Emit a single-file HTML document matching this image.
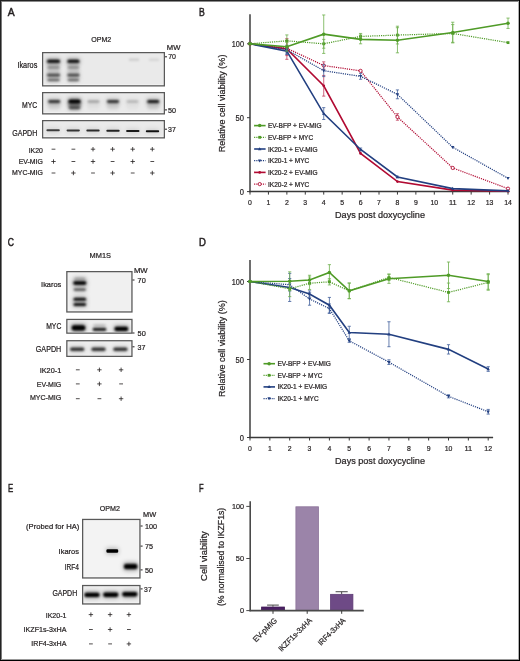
<!DOCTYPE html>
<html><head><meta charset="utf-8"><style>
html,body{margin:0;padding:0;background:#fff;}
svg{display:block;will-change:transform;}
text{font-family:"Liberation Sans",sans-serif;stroke:#231f20;stroke-width:0.22px;}
</style></head><body>
<svg width="520" height="661" viewBox="0 0 520 661">
<defs><filter id="b4" x="-50%" y="-200%" width="200%" height="500%"><feGaussianBlur stdDeviation="0.4"/></filter><filter id="b5" x="-50%" y="-200%" width="200%" height="500%"><feGaussianBlur stdDeviation="0.5"/></filter><filter id="b6" x="-50%" y="-200%" width="200%" height="500%"><feGaussianBlur stdDeviation="0.6"/></filter><filter id="b7" x="-50%" y="-200%" width="200%" height="500%"><feGaussianBlur stdDeviation="0.7"/></filter><filter id="b8" x="-50%" y="-200%" width="200%" height="500%"><feGaussianBlur stdDeviation="0.8"/></filter><filter id="b9" x="-50%" y="-200%" width="200%" height="500%"><feGaussianBlur stdDeviation="0.9"/></filter><filter id="b10" x="-50%" y="-200%" width="200%" height="500%"><feGaussianBlur stdDeviation="1.0"/></filter><filter id="b11" x="-50%" y="-200%" width="200%" height="500%"><feGaussianBlur stdDeviation="1.1"/></filter><filter id="b12" x="-50%" y="-200%" width="200%" height="500%"><feGaussianBlur stdDeviation="1.2"/></filter><filter id="b13" x="-50%" y="-200%" width="200%" height="500%"><feGaussianBlur stdDeviation="1.3"/></filter><filter id="b14" x="-50%" y="-200%" width="200%" height="500%"><feGaussianBlur stdDeviation="1.4"/></filter><filter id="b15" x="-50%" y="-200%" width="200%" height="500%"><feGaussianBlur stdDeviation="1.5"/></filter><filter id="b16" x="-50%" y="-200%" width="200%" height="500%"><feGaussianBlur stdDeviation="1.6"/></filter><filter id="b17" x="-50%" y="-200%" width="200%" height="500%"><feGaussianBlur stdDeviation="1.7"/></filter><filter id="b18" x="-50%" y="-200%" width="200%" height="500%"><feGaussianBlur stdDeviation="1.8"/></filter><filter id="b19" x="-50%" y="-200%" width="200%" height="500%"><feGaussianBlur stdDeviation="1.9"/></filter><filter id="b20" x="-50%" y="-200%" width="200%" height="500%"><feGaussianBlur stdDeviation="2.0"/></filter><clipPath id="c0"><rect x="43.30" y="53.30" width="120.40" height="31.90"/></clipPath><clipPath id="c1"><rect x="43.30" y="93.30" width="120.40" height="19.90"/></clipPath><clipPath id="c2"><rect x="43.30" y="121.30" width="120.40" height="15.90"/></clipPath><clipPath id="c3"><rect x="67.50" y="272.30" width="63.80" height="39.00"/></clipPath><clipPath id="c4"><rect x="67.50" y="320.10" width="63.80" height="12.40"/></clipPath><clipPath id="c5"><rect x="67.50" y="341.40" width="63.80" height="14.30"/></clipPath><clipPath id="c6"><rect x="83.30" y="520.10" width="56.00" height="57.20"/></clipPath><clipPath id="c7"><rect x="83.30" y="586.20" width="56.00" height="17.10"/></clipPath></defs>
<rect width="520" height="661" fill="#fff"/>
<text x="7.80" y="15.80" font-size="11.11" textLength="6.90" lengthAdjust="spacingAndGlyphs" fill="#231f20" style="stroke-width:0.5px">A</text>
<text x="199.10" y="15.65" font-size="10.97" textLength="5.80" lengthAdjust="spacingAndGlyphs" fill="#231f20" style="stroke-width:0.5px">B</text>
<text x="7.80" y="246.10" font-size="11.11" textLength="6.20" lengthAdjust="spacingAndGlyphs" fill="#231f20" style="stroke-width:0.5px">C</text>
<text x="199.10" y="245.80" font-size="10.83" textLength="6.90" lengthAdjust="spacingAndGlyphs" fill="#231f20" style="stroke-width:0.5px">D</text>
<text x="8.00" y="491.80" font-size="11.53" textLength="5.20" lengthAdjust="spacingAndGlyphs" fill="#231f20" style="stroke-width:0.5px">E</text>
<text x="199.10" y="491.70" font-size="11.53" textLength="4.60" lengthAdjust="spacingAndGlyphs" fill="#231f20" style="stroke-width:0.5px">F</text>
<text x="91.20" y="41.50" font-size="8.06" textLength="20.10" lengthAdjust="spacingAndGlyphs" fill="#231f20" >OPM2</text>
<text x="166.80" y="50.00" font-size="7.22" textLength="13.60" lengthAdjust="spacingAndGlyphs" fill="#231f20" >MW</text>
<rect x="43.00" y="53.00" width="121.00" height="32.50" fill="#fafafa"/>
<rect x="43.90" y="53.90" width="119.20" height="30.70" fill="#eaeaea"/>
<g clip-path="url(#c0)">
<rect x="47.15" y="60.00" width="12.70" height="22.00" rx="3.00" fill="#000" fill-opacity="0.1" filter="url(#b15)"/>
<rect x="46.25" y="58.30" width="14.50" height="6.00" rx="2" fill="#000" fill-opacity="0.3" filter="url(#b20)"/>
<rect x="47.03" y="59.80" width="12.94" height="3.00" rx="1.50" fill="#000" fill-opacity="0.95" filter="url(#b13)"/>
<rect x="46.75" y="65.10" width="13.50" height="5.00" rx="2" fill="#000" fill-opacity="0.1" filter="url(#b20)"/>
<rect x="47.35" y="66.60" width="12.30" height="2.00" rx="1.00" fill="#000" fill-opacity="0.32" filter="url(#b10)"/>
<rect x="46.25" y="72.30" width="14.50" height="5.60" rx="2" fill="#000" fill-opacity="0.15" filter="url(#b20)"/>
<rect x="46.91" y="73.80" width="13.18" height="2.60" rx="1.30" fill="#000" fill-opacity="0.6" filter="url(#b11)"/>
<rect x="46.75" y="77.60" width="13.50" height="5.00" rx="2" fill="#000" fill-opacity="0.1" filter="url(#b20)"/>
<rect x="47.35" y="79.10" width="12.30" height="2.00" rx="1.00" fill="#000" fill-opacity="0.5" filter="url(#b10)"/>
<rect x="67.55" y="60.00" width="11.70" height="22.00" rx="3.00" fill="#000" fill-opacity="0.1" filter="url(#b15)"/>
<rect x="66.65" y="58.30" width="13.50" height="6.00" rx="2" fill="#000" fill-opacity="0.3" filter="url(#b20)"/>
<rect x="67.43" y="59.80" width="11.94" height="3.00" rx="1.50" fill="#000" fill-opacity="0.95" filter="url(#b13)"/>
<rect x="67.15" y="65.10" width="12.50" height="5.00" rx="2" fill="#000" fill-opacity="0.1" filter="url(#b20)"/>
<rect x="67.75" y="66.60" width="11.30" height="2.00" rx="1.00" fill="#000" fill-opacity="0.32" filter="url(#b10)"/>
<rect x="66.65" y="72.30" width="13.50" height="5.60" rx="2" fill="#000" fill-opacity="0.15" filter="url(#b20)"/>
<rect x="67.31" y="73.80" width="12.18" height="2.60" rx="1.30" fill="#000" fill-opacity="0.6" filter="url(#b11)"/>
<rect x="67.15" y="77.60" width="12.50" height="5.00" rx="2" fill="#000" fill-opacity="0.1" filter="url(#b20)"/>
<rect x="67.75" y="79.10" width="11.30" height="2.00" rx="1.00" fill="#000" fill-opacity="0.5" filter="url(#b10)"/>
<rect x="128.72" y="58.60" width="10.56" height="2.40" rx="1.20" fill="#000" fill-opacity="0.12" filter="url(#b12)"/>
<rect x="148.72" y="58.60" width="10.56" height="2.40" rx="1.20" fill="#000" fill-opacity="0.09" filter="url(#b12)"/>
</g>
<rect x="42.65" y="52.65" width="121.70" height="33.20" fill="none" stroke="#595959" stroke-width="1.3"/>
<rect x="43.00" y="93.00" width="121.00" height="20.50" fill="#fafafa"/>
<rect x="43.90" y="93.90" width="119.20" height="18.70" fill="#eaeaea"/>
<g clip-path="url(#c1)">
<rect x="48.10" y="101.50" width="12.20" height="8.00" rx="3.00" fill="#000" fill-opacity="0.1" filter="url(#b15)"/>
<rect x="47.45" y="98.60" width="13.50" height="5.80" rx="2" fill="#000" fill-opacity="0.2" filter="url(#b20)"/>
<rect x="48.17" y="100.10" width="12.06" height="2.80" rx="1.40" fill="#000" fill-opacity="0.72" filter="url(#b12)"/>
<rect x="68.40" y="101.50" width="12.20" height="8.00" rx="3.00" fill="#000" fill-opacity="0.225" filter="url(#b15)"/>
<rect x="67.75" y="98.20" width="13.50" height="6.60" rx="2" fill="#000" fill-opacity="0.45" filter="url(#b20)"/>
<rect x="68.47" y="99.70" width="12.06" height="3.60" rx="1.80" fill="#000" fill-opacity="1.0" filter="url(#b12)"/>
<rect x="87.40" y="101.50" width="12.20" height="8.00" rx="3.00" fill="#000" fill-opacity="0.04" filter="url(#b15)"/>
<rect x="86.75" y="98.90" width="13.50" height="5.20" rx="2" fill="#000" fill-opacity="0.08" filter="url(#b20)"/>
<rect x="87.47" y="100.40" width="12.06" height="2.20" rx="1.10" fill="#000" fill-opacity="0.3" filter="url(#b12)"/>
<rect x="106.90" y="101.50" width="12.20" height="8.00" rx="3.00" fill="#000" fill-opacity="0.1" filter="url(#b15)"/>
<rect x="106.25" y="98.60" width="13.50" height="5.80" rx="2" fill="#000" fill-opacity="0.2" filter="url(#b20)"/>
<rect x="106.97" y="100.10" width="12.06" height="2.80" rx="1.40" fill="#000" fill-opacity="0.72" filter="url(#b12)"/>
<rect x="126.40" y="101.50" width="12.20" height="8.00" rx="3.00" fill="#000" fill-opacity="0.03" filter="url(#b15)"/>
<rect x="125.75" y="98.90" width="13.50" height="5.20" rx="2" fill="#000" fill-opacity="0.06" filter="url(#b20)"/>
<rect x="126.47" y="100.40" width="12.06" height="2.20" rx="1.10" fill="#000" fill-opacity="0.22" filter="url(#b12)"/>
<rect x="147.10" y="101.50" width="12.20" height="8.00" rx="3.00" fill="#000" fill-opacity="0.125" filter="url(#b15)"/>
<rect x="146.45" y="98.50" width="13.50" height="6.00" rx="2" fill="#000" fill-opacity="0.25" filter="url(#b20)"/>
<rect x="147.17" y="100.00" width="12.06" height="3.00" rx="1.50" fill="#000" fill-opacity="0.85" filter="url(#b12)"/>
<rect x="68.25" y="105.10" width="12.50" height="5.40" rx="2" fill="#000" fill-opacity="0.2" filter="url(#b20)"/>
<rect x="68.97" y="106.60" width="11.06" height="2.40" rx="1.20" fill="#000" fill-opacity="0.45" filter="url(#b12)"/>
<rect x="68.40" y="99.50" width="12.20" height="9.00" rx="3.00" fill="#000" fill-opacity="0.18" filter="url(#b15)"/>
</g>
<rect x="42.65" y="92.65" width="121.70" height="21.20" fill="none" stroke="#595959" stroke-width="1.3"/>
<rect x="43.00" y="121.00" width="121.00" height="16.50" fill="#fafafa"/>
<rect x="43.90" y="121.90" width="119.20" height="14.70" fill="#eaeaea"/>
<g clip-path="url(#c2)">
<rect x="46.10" y="127.70" width="14.00" height="5.00" rx="2" fill="#000" fill-opacity="0.1" filter="url(#b20)"/>
<rect x="46.46" y="129.20" width="13.28" height="2.00" rx="0.80" fill="#000" fill-opacity="0.72" filter="url(#b6)"/>
<rect x="66.20" y="127.90" width="14.00" height="5.00" rx="2" fill="#000" fill-opacity="0.1" filter="url(#b20)"/>
<rect x="66.56" y="129.40" width="13.28" height="2.00" rx="0.80" fill="#000" fill-opacity="0.76" filter="url(#b6)"/>
<rect x="86.00" y="128.10" width="14.00" height="5.00" rx="2" fill="#000" fill-opacity="0.1" filter="url(#b20)"/>
<rect x="86.36" y="129.60" width="13.28" height="2.00" rx="0.80" fill="#000" fill-opacity="0.7999999999999999" filter="url(#b6)"/>
<rect x="106.00" y="128.30" width="14.00" height="5.00" rx="2" fill="#000" fill-opacity="0.1" filter="url(#b20)"/>
<rect x="106.36" y="129.80" width="13.28" height="2.00" rx="0.80" fill="#000" fill-opacity="0.84" filter="url(#b6)"/>
<rect x="125.80" y="128.50" width="14.00" height="5.00" rx="2" fill="#000" fill-opacity="0.1" filter="url(#b20)"/>
<rect x="126.16" y="130.00" width="13.28" height="2.00" rx="0.80" fill="#000" fill-opacity="0.88" filter="url(#b6)"/>
<rect x="145.50" y="128.70" width="14.00" height="5.00" rx="2" fill="#000" fill-opacity="0.1" filter="url(#b20)"/>
<rect x="145.86" y="130.20" width="13.28" height="2.00" rx="0.80" fill="#000" fill-opacity="0.9199999999999999" filter="url(#b6)"/>
</g>
<rect x="42.65" y="120.65" width="121.70" height="17.20" fill="none" stroke="#595959" stroke-width="1.3"/>
<line x1="165.00" y1="56.80" x2="167.00" y2="56.80" stroke="#231f20" stroke-width="1" />
<line x1="165.00" y1="109.90" x2="167.00" y2="109.90" stroke="#231f20" stroke-width="1" />
<line x1="165.00" y1="129.20" x2="167.00" y2="129.20" stroke="#231f20" stroke-width="1" />
<text x="168.20" y="59.30" font-size="7.64" textLength="7.80" lengthAdjust="spacingAndGlyphs" fill="#231f20" >70</text>
<text x="168.00" y="112.80" font-size="7.78" textLength="8.00" lengthAdjust="spacingAndGlyphs" fill="#231f20" >50</text>
<text x="168.00" y="131.90" font-size="7.64" textLength="7.80" lengthAdjust="spacingAndGlyphs" fill="#231f20" >37</text>
<text x="17.40" y="67.90" font-size="8.33" textLength="19.90" lengthAdjust="spacingAndGlyphs" fill="#231f20" >Ikaros</text>
<text x="22.10" y="108.00" font-size="8.33" textLength="15.20" lengthAdjust="spacingAndGlyphs" fill="#231f20" >MYC</text>
<text x="12.20" y="136.20" font-size="8.33" textLength="25.10" lengthAdjust="spacingAndGlyphs" fill="#231f20" >GAPDH</text>
<text x="28.70" y="152.60" font-size="7.36" textLength="14.20" lengthAdjust="spacingAndGlyphs" fill="#231f20" >IK20</text>
<text x="18.70" y="163.90" font-size="7.36" textLength="24.20" lengthAdjust="spacingAndGlyphs" fill="#231f20" >EV-MIG</text>
<text x="12.10" y="175.10" font-size="7.36" textLength="30.80" lengthAdjust="spacingAndGlyphs" fill="#231f20" >MYC-MIG</text>
<line x1="51.60" y1="149.20" x2="55.40" y2="149.20" stroke="#231f20" stroke-width="0.8" />
<line x1="71.50" y1="149.20" x2="75.30" y2="149.20" stroke="#231f20" stroke-width="0.8" />
<line x1="90.80" y1="149.20" x2="95.20" y2="149.20" stroke="#231f20" stroke-width="0.8" />
<line x1="93.00" y1="147.00" x2="93.00" y2="151.40" stroke="#231f20" stroke-width="0.8" />
<line x1="110.40" y1="149.20" x2="114.80" y2="149.20" stroke="#231f20" stroke-width="0.8" />
<line x1="112.60" y1="147.00" x2="112.60" y2="151.40" stroke="#231f20" stroke-width="0.8" />
<line x1="130.50" y1="149.20" x2="134.90" y2="149.20" stroke="#231f20" stroke-width="0.8" />
<line x1="132.70" y1="147.00" x2="132.70" y2="151.40" stroke="#231f20" stroke-width="0.8" />
<line x1="150.10" y1="149.20" x2="154.50" y2="149.20" stroke="#231f20" stroke-width="0.8" />
<line x1="152.30" y1="147.00" x2="152.30" y2="151.40" stroke="#231f20" stroke-width="0.8" />
<line x1="51.30" y1="161.50" x2="55.70" y2="161.50" stroke="#231f20" stroke-width="0.8" />
<line x1="53.50" y1="159.30" x2="53.50" y2="163.70" stroke="#231f20" stroke-width="0.8" />
<line x1="71.50" y1="161.50" x2="75.30" y2="161.50" stroke="#231f20" stroke-width="0.8" />
<line x1="90.80" y1="161.50" x2="95.20" y2="161.50" stroke="#231f20" stroke-width="0.8" />
<line x1="93.00" y1="159.30" x2="93.00" y2="163.70" stroke="#231f20" stroke-width="0.8" />
<line x1="110.70" y1="161.50" x2="114.50" y2="161.50" stroke="#231f20" stroke-width="0.8" />
<line x1="130.50" y1="161.50" x2="134.90" y2="161.50" stroke="#231f20" stroke-width="0.8" />
<line x1="132.70" y1="159.30" x2="132.70" y2="163.70" stroke="#231f20" stroke-width="0.8" />
<line x1="150.40" y1="161.50" x2="154.20" y2="161.50" stroke="#231f20" stroke-width="0.8" />
<line x1="51.60" y1="173.00" x2="55.40" y2="173.00" stroke="#231f20" stroke-width="0.8" />
<line x1="71.20" y1="173.00" x2="75.60" y2="173.00" stroke="#231f20" stroke-width="0.8" />
<line x1="73.40" y1="170.80" x2="73.40" y2="175.20" stroke="#231f20" stroke-width="0.8" />
<line x1="91.10" y1="173.00" x2="94.90" y2="173.00" stroke="#231f20" stroke-width="0.8" />
<line x1="110.40" y1="173.00" x2="114.80" y2="173.00" stroke="#231f20" stroke-width="0.8" />
<line x1="112.60" y1="170.80" x2="112.60" y2="175.20" stroke="#231f20" stroke-width="0.8" />
<line x1="130.80" y1="173.00" x2="134.60" y2="173.00" stroke="#231f20" stroke-width="0.8" />
<line x1="150.10" y1="173.00" x2="154.50" y2="173.00" stroke="#231f20" stroke-width="0.8" />
<line x1="152.30" y1="170.80" x2="152.30" y2="175.20" stroke="#231f20" stroke-width="0.8" />
<text x="89.60" y="258.00" font-size="8.06" textLength="21.40" lengthAdjust="spacingAndGlyphs" fill="#231f20" >MM1S</text>
<text x="133.90" y="273.00" font-size="7.36" textLength="13.80" lengthAdjust="spacingAndGlyphs" fill="#231f20" >MW</text>
<rect x="67.20" y="272.00" width="64.40" height="39.60" fill="#fafafa"/>
<rect x="68.10" y="272.90" width="62.60" height="37.80" fill="#f0f0f0"/>
<g clip-path="url(#c3)">
<rect x="73.30" y="276.00" width="13.00" height="5.20" rx="2" fill="#000" fill-opacity="0.1" filter="url(#b20)"/>
<rect x="74.02" y="277.50" width="11.56" height="2.20" rx="1.10" fill="#000" fill-opacity="0.22" filter="url(#b12)"/>
<rect x="72.55" y="279.70" width="14.50" height="6.60" rx="2" fill="#000" fill-opacity="0.35" filter="url(#b20)"/>
<rect x="73.27" y="281.20" width="13.06" height="3.60" rx="1.80" fill="#000" fill-opacity="1.0" filter="url(#b12)"/>
<rect x="73.05" y="286.90" width="13.50" height="5.40" rx="2" fill="#000" fill-opacity="0.18" filter="url(#b20)"/>
<rect x="73.71" y="288.40" width="12.18" height="2.40" rx="1.20" fill="#000" fill-opacity="0.62" filter="url(#b11)"/>
<rect x="72.80" y="296.30" width="14.00" height="6.00" rx="2" fill="#000" fill-opacity="0.25" filter="url(#b20)"/>
<rect x="73.52" y="297.80" width="12.56" height="3.00" rx="1.50" fill="#000" fill-opacity="0.9" filter="url(#b12)"/>
<rect x="72.80" y="301.60" width="14.00" height="6.00" rx="2" fill="#000" fill-opacity="0.25" filter="url(#b20)"/>
<rect x="73.52" y="303.10" width="12.56" height="3.00" rx="1.50" fill="#000" fill-opacity="0.88" filter="url(#b12)"/>
</g>
<rect x="66.85" y="271.65" width="65.10" height="40.30" fill="none" stroke="#595959" stroke-width="1.3"/>
<rect x="67.20" y="319.80" width="64.40" height="13.00" fill="#fafafa"/>
<rect x="68.10" y="320.70" width="62.60" height="11.20" fill="#eeeeee"/>
<g clip-path="url(#c4)">
<rect x="71.00" y="323.70" width="15.00" height="8.20" rx="2" fill="#000" fill-opacity="0.4" filter="url(#b20)"/>
<rect x="71.72" y="325.20" width="13.56" height="5.20" rx="2.60" fill="#000" fill-opacity="1.0" filter="url(#b12)"/>
<rect x="92.25" y="326.60" width="14.50" height="5.60" rx="2" fill="#000" fill-opacity="0.2" filter="url(#b20)"/>
<rect x="92.79" y="328.10" width="13.42" height="2.60" rx="1.30" fill="#000" fill-opacity="0.92" filter="url(#b9)"/>
<rect x="93.22" y="324.00" width="12.56" height="3.00" rx="1.50" fill="#000" fill-opacity="0.15" filter="url(#b12)"/>
<rect x="113.80" y="325.30" width="15.00" height="7.20" rx="2" fill="#000" fill-opacity="0.35" filter="url(#b20)"/>
<rect x="114.46" y="326.80" width="13.68" height="4.20" rx="2.10" fill="#000" fill-opacity="1.0" filter="url(#b11)"/>
</g>
<rect x="66.85" y="319.45" width="65.10" height="13.70" fill="none" stroke="#595959" stroke-width="1.3"/>
<rect x="67.20" y="341.10" width="64.40" height="14.90" fill="#fafafa"/>
<rect x="68.10" y="342.00" width="62.60" height="13.10" fill="#eeeeee"/>
<g clip-path="url(#c5)">
<rect x="69.45" y="346.00" width="15.50" height="6.40" rx="2" fill="#000" fill-opacity="0.15" filter="url(#b20)"/>
<rect x="70.11" y="347.50" width="14.18" height="3.40" rx="1.70" fill="#000" fill-opacity="0.75" filter="url(#b11)"/>
<rect x="90.75" y="346.00" width="15.50" height="6.40" rx="2" fill="#000" fill-opacity="0.15" filter="url(#b20)"/>
<rect x="91.41" y="347.50" width="14.18" height="3.40" rx="1.70" fill="#000" fill-opacity="0.75" filter="url(#b11)"/>
<rect x="112.65" y="346.00" width="15.50" height="6.40" rx="2" fill="#000" fill-opacity="0.15" filter="url(#b20)"/>
<rect x="113.31" y="347.50" width="14.18" height="3.40" rx="1.70" fill="#000" fill-opacity="0.75" filter="url(#b11)"/>
</g>
<rect x="66.85" y="340.75" width="65.10" height="15.60" fill="none" stroke="#595959" stroke-width="1.3"/>
<line x1="132.50" y1="280.00" x2="134.50" y2="280.00" stroke="#231f20" stroke-width="1" />
<line x1="132.50" y1="333.00" x2="134.50" y2="333.00" stroke="#231f20" stroke-width="1" />
<line x1="132.50" y1="346.80" x2="134.50" y2="346.80" stroke="#231f20" stroke-width="1" />
<text x="137.60" y="282.80" font-size="7.78" textLength="8.20" lengthAdjust="spacingAndGlyphs" fill="#231f20" >70</text>
<text x="137.60" y="336.00" font-size="7.78" textLength="8.20" lengthAdjust="spacingAndGlyphs" fill="#231f20" >50</text>
<text x="137.60" y="349.90" font-size="7.92" textLength="7.90" lengthAdjust="spacingAndGlyphs" fill="#231f20" >37</text>
<text x="41.10" y="287.20" font-size="8.06" textLength="20.20" lengthAdjust="spacingAndGlyphs" fill="#231f20" >Ikaros</text>
<text x="46.20" y="328.60" font-size="8.19" textLength="15.10" lengthAdjust="spacingAndGlyphs" fill="#231f20" >MYC</text>
<text x="35.80" y="352.00" font-size="8.19" textLength="25.50" lengthAdjust="spacingAndGlyphs" fill="#231f20" >GAPDH</text>
<text x="39.70" y="373.20" font-size="7.64" textLength="21.60" lengthAdjust="spacingAndGlyphs" fill="#231f20" >IK20-1</text>
<text x="36.80" y="386.60" font-size="7.64" textLength="24.50" lengthAdjust="spacingAndGlyphs" fill="#231f20" >EV-MIG</text>
<text x="29.90" y="400.30" font-size="8.06" textLength="31.40" lengthAdjust="spacingAndGlyphs" fill="#231f20" >MYC-MIG</text>
<line x1="75.90" y1="369.80" x2="79.70" y2="369.80" stroke="#231f20" stroke-width="0.8" />
<line x1="97.20" y1="369.80" x2="101.60" y2="369.80" stroke="#231f20" stroke-width="0.8" />
<line x1="99.40" y1="367.60" x2="99.40" y2="372.00" stroke="#231f20" stroke-width="0.8" />
<line x1="118.90" y1="369.80" x2="123.30" y2="369.80" stroke="#231f20" stroke-width="0.8" />
<line x1="121.10" y1="367.60" x2="121.10" y2="372.00" stroke="#231f20" stroke-width="0.8" />
<line x1="75.90" y1="383.90" x2="79.70" y2="383.90" stroke="#231f20" stroke-width="0.8" />
<line x1="97.20" y1="383.90" x2="101.60" y2="383.90" stroke="#231f20" stroke-width="0.8" />
<line x1="99.40" y1="381.70" x2="99.40" y2="386.10" stroke="#231f20" stroke-width="0.8" />
<line x1="119.20" y1="383.90" x2="123.00" y2="383.90" stroke="#231f20" stroke-width="0.8" />
<line x1="75.90" y1="398.70" x2="79.70" y2="398.70" stroke="#231f20" stroke-width="0.8" />
<line x1="97.50" y1="398.70" x2="101.30" y2="398.70" stroke="#231f20" stroke-width="0.8" />
<line x1="118.90" y1="398.70" x2="123.30" y2="398.70" stroke="#231f20" stroke-width="0.8" />
<line x1="121.10" y1="396.50" x2="121.10" y2="400.90" stroke="#231f20" stroke-width="0.8" />
<text x="99.80" y="511.00" font-size="7.92" textLength="20.20" lengthAdjust="spacingAndGlyphs" fill="#231f20" >OPM2</text>
<text x="143.10" y="516.60" font-size="7.36" textLength="13.10" lengthAdjust="spacingAndGlyphs" fill="#231f20" >MW</text>
<rect x="83.00" y="519.80" width="56.60" height="57.80" fill="#fafafa"/>
<rect x="83.90" y="520.70" width="54.80" height="56.00" fill="#f3f3f3"/>
<g clip-path="url(#c6)">
<rect x="106.00" y="547.80" width="12.60" height="6.40" rx="2" fill="#000" fill-opacity="0.25" filter="url(#b20)"/>
<rect x="106.42" y="549.30" width="11.76" height="3.40" rx="1.20" fill="#000" fill-opacity="1.0" filter="url(#b7)"/>
<rect x="123.60" y="562.60" width="14.20" height="8.00" rx="2" fill="#000" fill-opacity="0.4" filter="url(#b20)"/>
<rect x="124.08" y="564.10" width="13.24" height="5.00" rx="1.80" fill="#000" fill-opacity="1.0" filter="url(#b8)"/>
</g>
<rect x="82.65" y="519.45" width="57.30" height="58.50" fill="none" stroke="#595959" stroke-width="1.3"/>
<rect x="83.00" y="585.90" width="56.60" height="17.70" fill="#fafafa"/>
<rect x="83.90" y="586.80" width="54.80" height="15.90" fill="#eeeeee"/>
<g clip-path="url(#c7)">
<rect x="84.00" y="591.20" width="16.00" height="7.40" rx="2" fill="#000" fill-opacity="0.3" filter="url(#b20)"/>
<rect x="84.48" y="592.70" width="15.04" height="4.40" rx="1.80" fill="#000" fill-opacity="1.0" filter="url(#b8)"/>
<rect x="102.80" y="591.00" width="16.00" height="7.40" rx="2" fill="#000" fill-opacity="0.3" filter="url(#b20)"/>
<rect x="103.28" y="592.50" width="15.04" height="4.40" rx="1.80" fill="#000" fill-opacity="1.0" filter="url(#b8)"/>
<rect x="121.80" y="590.50" width="16.00" height="7.40" rx="2" fill="#000" fill-opacity="0.3" filter="url(#b20)"/>
<rect x="122.28" y="592.00" width="15.04" height="4.40" rx="1.80" fill="#000" fill-opacity="1.0" filter="url(#b8)"/>
</g>
<rect x="82.65" y="585.55" width="57.30" height="18.40" fill="none" stroke="#595959" stroke-width="1.3"/>
<line x1="140.60" y1="526.00" x2="142.60" y2="526.00" stroke="#231f20" stroke-width="1" />
<line x1="140.60" y1="546.10" x2="142.60" y2="546.10" stroke="#231f20" stroke-width="1" />
<line x1="140.60" y1="569.90" x2="142.60" y2="569.90" stroke="#231f20" stroke-width="1" />
<line x1="140.60" y1="588.90" x2="142.60" y2="588.90" stroke="#231f20" stroke-width="1" />
<text x="144.90" y="528.70" font-size="7.36" textLength="12.10" lengthAdjust="spacingAndGlyphs" fill="#231f20" >100</text>
<text x="144.90" y="548.80" font-size="7.22" textLength="8.00" lengthAdjust="spacingAndGlyphs" fill="#231f20" >75</text>
<text x="144.90" y="572.60" font-size="7.36" textLength="8.00" lengthAdjust="spacingAndGlyphs" fill="#231f20" >50</text>
<text x="144.10" y="591.90" font-size="7.64" textLength="7.60" lengthAdjust="spacingAndGlyphs" fill="#231f20" >37</text>
<text x="26.10" y="528.60" font-size="7.50" textLength="53.20" lengthAdjust="spacingAndGlyphs" fill="#231f20" >(Probed for HA)</text>
<text x="58.60" y="553.60" font-size="7.64" textLength="20.30" lengthAdjust="spacingAndGlyphs" fill="#231f20" >Ikaros</text>
<text x="64.70" y="570.30" font-size="8.19" textLength="14.20" lengthAdjust="spacingAndGlyphs" fill="#231f20" >IRF4</text>
<text x="52.40" y="596.20" font-size="8.47" textLength="24.80" lengthAdjust="spacingAndGlyphs" fill="#231f20" >GAPDH</text>
<text x="45.70" y="618.20" font-size="7.36" textLength="20.70" lengthAdjust="spacingAndGlyphs" fill="#231f20" >IK20-1</text>
<text x="23.60" y="632.20" font-size="7.36" textLength="42.80" lengthAdjust="spacingAndGlyphs" fill="#231f20" >IKZF1s-3xHA</text>
<text x="31.30" y="646.30" font-size="7.36" textLength="35.10" lengthAdjust="spacingAndGlyphs" fill="#231f20" >IRF4-3xHA</text>
<line x1="88.70" y1="614.60" x2="93.10" y2="614.60" stroke="#231f20" stroke-width="0.8" />
<line x1="90.90" y1="612.40" x2="90.90" y2="616.80" stroke="#231f20" stroke-width="0.8" />
<line x1="107.90" y1="614.60" x2="112.30" y2="614.60" stroke="#231f20" stroke-width="0.8" />
<line x1="110.10" y1="612.40" x2="110.10" y2="616.80" stroke="#231f20" stroke-width="0.8" />
<line x1="126.70" y1="614.60" x2="131.10" y2="614.60" stroke="#231f20" stroke-width="0.8" />
<line x1="128.90" y1="612.40" x2="128.90" y2="616.80" stroke="#231f20" stroke-width="0.8" />
<line x1="89.00" y1="629.50" x2="92.80" y2="629.50" stroke="#231f20" stroke-width="0.8" />
<line x1="107.90" y1="629.50" x2="112.30" y2="629.50" stroke="#231f20" stroke-width="0.8" />
<line x1="110.10" y1="627.30" x2="110.10" y2="631.70" stroke="#231f20" stroke-width="0.8" />
<line x1="127.00" y1="629.50" x2="130.80" y2="629.50" stroke="#231f20" stroke-width="0.8" />
<line x1="89.00" y1="643.90" x2="92.80" y2="643.90" stroke="#231f20" stroke-width="0.8" />
<line x1="108.20" y1="643.90" x2="112.00" y2="643.90" stroke="#231f20" stroke-width="0.8" />
<line x1="126.70" y1="643.90" x2="131.10" y2="643.90" stroke="#231f20" stroke-width="0.8" />
<line x1="128.90" y1="641.70" x2="128.90" y2="646.10" stroke="#231f20" stroke-width="0.8" />
<line x1="250.00" y1="14.30" x2="250.00" y2="192.30" stroke="#4a4a4a" stroke-width="1.6" />
<line x1="249.20" y1="191.60" x2="509.50" y2="191.60" stroke="#3a3a3a" stroke-width="1.5" />
<line x1="247.00" y1="43.80" x2="250.00" y2="43.80" stroke="#3a3a3a" stroke-width="1" />
<text x="231.80" y="46.80" font-size="8.89" textLength="12.20" lengthAdjust="spacingAndGlyphs" fill="#231f20" >100</text>
<line x1="247.00" y1="117.70" x2="250.00" y2="117.70" stroke="#3a3a3a" stroke-width="1" />
<text x="235.60" y="120.70" font-size="8.89" textLength="8.40" lengthAdjust="spacingAndGlyphs" fill="#231f20" >50</text>
<line x1="247.00" y1="191.60" x2="250.00" y2="191.60" stroke="#3a3a3a" stroke-width="1" />
<text x="239.80" y="194.60" font-size="8.89" textLength="4.20" lengthAdjust="spacingAndGlyphs" fill="#231f20" >0</text>
<line x1="250.00" y1="191.60" x2="250.00" y2="194.60" stroke="#3a3a3a" stroke-width="1" />
<text x="248.07" y="204.70" font-size="8.06" textLength="3.85" lengthAdjust="spacingAndGlyphs" fill="#231f20" >0</text>
<line x1="268.43" y1="191.60" x2="268.43" y2="194.60" stroke="#3a3a3a" stroke-width="1" />
<text x="266.50" y="204.70" font-size="8.06" textLength="3.85" lengthAdjust="spacingAndGlyphs" fill="#231f20" >1</text>
<line x1="286.86" y1="191.60" x2="286.86" y2="194.60" stroke="#3a3a3a" stroke-width="1" />
<text x="284.94" y="204.70" font-size="8.06" textLength="3.85" lengthAdjust="spacingAndGlyphs" fill="#231f20" >2</text>
<line x1="305.29" y1="191.60" x2="305.29" y2="194.60" stroke="#3a3a3a" stroke-width="1" />
<text x="303.37" y="204.70" font-size="8.06" textLength="3.85" lengthAdjust="spacingAndGlyphs" fill="#231f20" >3</text>
<line x1="323.72" y1="191.60" x2="323.72" y2="194.60" stroke="#3a3a3a" stroke-width="1" />
<text x="321.80" y="204.70" font-size="8.06" textLength="3.85" lengthAdjust="spacingAndGlyphs" fill="#231f20" >4</text>
<line x1="342.15" y1="191.60" x2="342.15" y2="194.60" stroke="#3a3a3a" stroke-width="1" />
<text x="340.22" y="204.70" font-size="8.06" textLength="3.85" lengthAdjust="spacingAndGlyphs" fill="#231f20" >5</text>
<line x1="360.58" y1="191.60" x2="360.58" y2="194.60" stroke="#3a3a3a" stroke-width="1" />
<text x="358.65" y="204.70" font-size="8.06" textLength="3.85" lengthAdjust="spacingAndGlyphs" fill="#231f20" >6</text>
<line x1="379.01" y1="191.60" x2="379.01" y2="194.60" stroke="#3a3a3a" stroke-width="1" />
<text x="377.08" y="204.70" font-size="8.06" textLength="3.85" lengthAdjust="spacingAndGlyphs" fill="#231f20" >7</text>
<line x1="397.44" y1="191.60" x2="397.44" y2="194.60" stroke="#3a3a3a" stroke-width="1" />
<text x="395.51" y="204.70" font-size="8.06" textLength="3.85" lengthAdjust="spacingAndGlyphs" fill="#231f20" >8</text>
<line x1="415.87" y1="191.60" x2="415.87" y2="194.60" stroke="#3a3a3a" stroke-width="1" />
<text x="413.94" y="204.70" font-size="8.06" textLength="3.85" lengthAdjust="spacingAndGlyphs" fill="#231f20" >9</text>
<line x1="434.30" y1="191.60" x2="434.30" y2="194.60" stroke="#3a3a3a" stroke-width="1" />
<text x="430.45" y="204.70" font-size="8.06" textLength="7.70" lengthAdjust="spacingAndGlyphs" fill="#231f20" >10</text>
<line x1="452.73" y1="191.60" x2="452.73" y2="194.60" stroke="#3a3a3a" stroke-width="1" />
<text x="448.88" y="204.70" font-size="8.06" textLength="7.70" lengthAdjust="spacingAndGlyphs" fill="#231f20" >11</text>
<line x1="471.16" y1="191.60" x2="471.16" y2="194.60" stroke="#3a3a3a" stroke-width="1" />
<text x="467.31" y="204.70" font-size="8.06" textLength="7.70" lengthAdjust="spacingAndGlyphs" fill="#231f20" >12</text>
<line x1="489.59" y1="191.60" x2="489.59" y2="194.60" stroke="#3a3a3a" stroke-width="1" />
<text x="485.74" y="204.70" font-size="8.06" textLength="7.70" lengthAdjust="spacingAndGlyphs" fill="#231f20" >13</text>
<line x1="508.02" y1="191.60" x2="508.02" y2="194.60" stroke="#3a3a3a" stroke-width="1" />
<text x="504.17" y="204.70" font-size="8.06" textLength="7.70" lengthAdjust="spacingAndGlyphs" fill="#231f20" >14</text>
<path d="M250.00,43.80 L286.86,48.23 L323.72,65.53 L360.58,70.85 L397.44,116.96 L452.73,167.95 L508.02,188.64" fill="none" stroke="#b10a32" stroke-width="1.25" stroke-dasharray="1.15,1.05"/>
<line x1="286.86" y1="40.84" x2="286.86" y2="55.62" stroke="#c0405f" stroke-width="0.8" />
<line x1="285.26" y1="40.84" x2="288.46" y2="40.84" stroke="#c0405f" stroke-width="0.8" />
<line x1="285.26" y1="55.62" x2="288.46" y2="55.62" stroke="#c0405f" stroke-width="0.8" />
<line x1="323.72" y1="61.83" x2="323.72" y2="69.22" stroke="#c0405f" stroke-width="0.8" />
<line x1="322.12" y1="61.83" x2="325.32" y2="61.83" stroke="#c0405f" stroke-width="0.8" />
<line x1="322.12" y1="69.22" x2="325.32" y2="69.22" stroke="#c0405f" stroke-width="0.8" />
<line x1="397.44" y1="113.71" x2="397.44" y2="120.21" stroke="#c0405f" stroke-width="0.8" />
<line x1="395.84" y1="113.71" x2="399.04" y2="113.71" stroke="#c0405f" stroke-width="0.8" />
<line x1="395.84" y1="120.21" x2="399.04" y2="120.21" stroke="#c0405f" stroke-width="0.8" />
<circle cx="250.00" cy="43.80" r="1.6" fill="#fff" stroke="#b10a32" stroke-width="0.9"/>
<circle cx="286.86" cy="48.23" r="1.6" fill="#fff" stroke="#b10a32" stroke-width="0.9"/>
<circle cx="323.72" cy="65.53" r="1.6" fill="#fff" stroke="#b10a32" stroke-width="0.9"/>
<circle cx="360.58" cy="70.85" r="1.6" fill="#fff" stroke="#b10a32" stroke-width="0.9"/>
<circle cx="397.44" cy="116.96" r="1.6" fill="#fff" stroke="#b10a32" stroke-width="0.9"/>
<circle cx="452.73" cy="167.95" r="1.6" fill="#fff" stroke="#b10a32" stroke-width="0.9"/>
<circle cx="508.02" cy="188.64" r="1.6" fill="#fff" stroke="#b10a32" stroke-width="0.9"/>
<path d="M250.00,43.80 L286.86,48.97 L323.72,85.78 L360.58,153.47 L397.44,181.55 L452.73,190.12 L508.02,191.16" fill="none" stroke="#b10a32" stroke-width="1.6" />
<line x1="286.86" y1="38.63" x2="286.86" y2="59.32" stroke="#c0405f" stroke-width="0.8" />
<line x1="285.26" y1="38.63" x2="288.46" y2="38.63" stroke="#c0405f" stroke-width="0.8" />
<line x1="285.26" y1="59.32" x2="288.46" y2="59.32" stroke="#c0405f" stroke-width="0.8" />
<line x1="323.72" y1="75.43" x2="323.72" y2="96.12" stroke="#c0405f" stroke-width="0.8" />
<line x1="322.12" y1="75.43" x2="325.32" y2="75.43" stroke="#c0405f" stroke-width="0.8" />
<line x1="322.12" y1="96.12" x2="325.32" y2="96.12" stroke="#c0405f" stroke-width="0.8" />
<circle cx="250.00" cy="43.80" r="1.35" fill="#b10a32"/>
<circle cx="286.86" cy="48.97" r="1.35" fill="#b10a32"/>
<circle cx="323.72" cy="85.78" r="1.35" fill="#b10a32"/>
<circle cx="360.58" cy="153.47" r="1.35" fill="#b10a32"/>
<circle cx="397.44" cy="181.55" r="1.35" fill="#b10a32"/>
<circle cx="452.73" cy="190.12" r="1.35" fill="#b10a32"/>
<circle cx="508.02" cy="191.16" r="1.35" fill="#b10a32"/>
<path d="M250.00,43.80 L286.86,49.71 L323.72,70.70 L360.58,76.32 L397.44,94.35 L452.73,147.26 L508.02,178.30" fill="none" stroke="#223f80" stroke-width="1.25" stroke-dasharray="1.15,1.05"/>
<line x1="286.86" y1="45.28" x2="286.86" y2="54.15" stroke="#41609c" stroke-width="0.8" />
<line x1="285.26" y1="45.28" x2="288.46" y2="45.28" stroke="#41609c" stroke-width="0.8" />
<line x1="285.26" y1="54.15" x2="288.46" y2="54.15" stroke="#41609c" stroke-width="0.8" />
<line x1="323.72" y1="64.79" x2="323.72" y2="76.61" stroke="#41609c" stroke-width="0.8" />
<line x1="322.12" y1="64.79" x2="325.32" y2="64.79" stroke="#41609c" stroke-width="0.8" />
<line x1="322.12" y1="76.61" x2="325.32" y2="76.61" stroke="#41609c" stroke-width="0.8" />
<line x1="360.58" y1="73.36" x2="360.58" y2="79.27" stroke="#41609c" stroke-width="0.8" />
<line x1="358.98" y1="73.36" x2="362.18" y2="73.36" stroke="#41609c" stroke-width="0.8" />
<line x1="358.98" y1="79.27" x2="362.18" y2="79.27" stroke="#41609c" stroke-width="0.8" />
<line x1="397.44" y1="89.91" x2="397.44" y2="98.78" stroke="#41609c" stroke-width="0.8" />
<line x1="395.84" y1="89.91" x2="399.04" y2="89.91" stroke="#41609c" stroke-width="0.8" />
<line x1="395.84" y1="98.78" x2="399.04" y2="98.78" stroke="#41609c" stroke-width="0.8" />
<path d="M250.00,45.60 L251.70,42.60 L248.30,42.60Z" fill="#223f80"/>
<path d="M286.86,51.51 L288.56,48.51 L285.16,48.51Z" fill="#223f80"/>
<path d="M323.72,72.50 L325.42,69.50 L322.02,69.50Z" fill="#223f80"/>
<path d="M360.58,78.12 L362.28,75.12 L358.88,75.12Z" fill="#223f80"/>
<path d="M397.44,96.15 L399.14,93.15 L395.74,93.15Z" fill="#223f80"/>
<path d="M452.73,149.06 L454.43,146.06 L451.03,146.06Z" fill="#223f80"/>
<path d="M508.02,180.10 L509.72,177.10 L506.32,177.10Z" fill="#223f80"/>
<path d="M250.00,43.80 L286.86,51.19 L323.72,113.56 L360.58,149.48 L397.44,176.97 L452.73,188.64 L508.02,190.86" fill="none" stroke="#223f80" stroke-width="1.6" />
<line x1="286.86" y1="48.23" x2="286.86" y2="54.15" stroke="#41609c" stroke-width="0.8" />
<line x1="285.26" y1="48.23" x2="288.46" y2="48.23" stroke="#41609c" stroke-width="0.8" />
<line x1="285.26" y1="54.15" x2="288.46" y2="54.15" stroke="#41609c" stroke-width="0.8" />
<line x1="323.72" y1="107.65" x2="323.72" y2="119.47" stroke="#41609c" stroke-width="0.8" />
<line x1="322.12" y1="107.65" x2="325.32" y2="107.65" stroke="#41609c" stroke-width="0.8" />
<line x1="322.12" y1="119.47" x2="325.32" y2="119.47" stroke="#41609c" stroke-width="0.8" />
<line x1="360.58" y1="148.00" x2="360.58" y2="150.95" stroke="#41609c" stroke-width="0.8" />
<line x1="358.98" y1="148.00" x2="362.18" y2="148.00" stroke="#41609c" stroke-width="0.8" />
<line x1="358.98" y1="150.95" x2="362.18" y2="150.95" stroke="#41609c" stroke-width="0.8" />
<line x1="397.44" y1="176.23" x2="397.44" y2="177.71" stroke="#41609c" stroke-width="0.8" />
<line x1="395.84" y1="176.23" x2="399.04" y2="176.23" stroke="#41609c" stroke-width="0.8" />
<line x1="395.84" y1="177.71" x2="399.04" y2="177.71" stroke="#41609c" stroke-width="0.8" />
<path d="M250.00,42.00 L251.70,45.00 L248.30,45.00Z" fill="#223f80"/>
<path d="M286.86,49.39 L288.56,52.39 L285.16,52.39Z" fill="#223f80"/>
<path d="M323.72,111.76 L325.42,114.76 L322.02,114.76Z" fill="#223f80"/>
<path d="M360.58,147.68 L362.28,150.68 L358.88,150.68Z" fill="#223f80"/>
<path d="M397.44,175.17 L399.14,178.17 L395.74,178.17Z" fill="#223f80"/>
<path d="M452.73,186.84 L454.43,189.84 L451.03,189.84Z" fill="#223f80"/>
<path d="M508.02,189.06 L509.72,192.06 L506.32,192.06Z" fill="#223f80"/>
<path d="M250.00,43.80 L286.86,40.84 L323.72,43.80 L360.58,36.41 L397.44,35.08 L452.73,33.45 L508.02,42.62" fill="none" stroke="#4f9b27" stroke-width="1.25" stroke-dasharray="1.15,1.05"/>
<line x1="286.86" y1="34.93" x2="286.86" y2="46.76" stroke="#6fb04c" stroke-width="0.8" />
<line x1="285.26" y1="34.93" x2="288.46" y2="34.93" stroke="#6fb04c" stroke-width="0.8" />
<line x1="285.26" y1="46.76" x2="288.46" y2="46.76" stroke="#6fb04c" stroke-width="0.8" />
<line x1="323.72" y1="39.37" x2="323.72" y2="48.23" stroke="#6fb04c" stroke-width="0.8" />
<line x1="322.12" y1="39.37" x2="325.32" y2="39.37" stroke="#6fb04c" stroke-width="0.8" />
<line x1="322.12" y1="48.23" x2="325.32" y2="48.23" stroke="#6fb04c" stroke-width="0.8" />
<line x1="360.58" y1="33.45" x2="360.58" y2="39.37" stroke="#6fb04c" stroke-width="0.8" />
<line x1="358.98" y1="33.45" x2="362.18" y2="33.45" stroke="#6fb04c" stroke-width="0.8" />
<line x1="358.98" y1="39.37" x2="362.18" y2="39.37" stroke="#6fb04c" stroke-width="0.8" />
<line x1="397.44" y1="26.21" x2="397.44" y2="43.95" stroke="#6fb04c" stroke-width="0.8" />
<line x1="395.84" y1="26.21" x2="399.04" y2="26.21" stroke="#6fb04c" stroke-width="0.8" />
<line x1="395.84" y1="43.95" x2="399.04" y2="43.95" stroke="#6fb04c" stroke-width="0.8" />
<line x1="452.73" y1="24.59" x2="452.73" y2="42.32" stroke="#6fb04c" stroke-width="0.8" />
<line x1="451.13" y1="24.59" x2="454.33" y2="24.59" stroke="#6fb04c" stroke-width="0.8" />
<line x1="451.13" y1="42.32" x2="454.33" y2="42.32" stroke="#6fb04c" stroke-width="0.8" />
<rect x="248.60" y="42.40" width="2.8" height="2.8" fill="#4f9b27"/>
<rect x="285.46" y="39.44" width="2.8" height="2.8" fill="#4f9b27"/>
<rect x="322.32" y="42.40" width="2.8" height="2.8" fill="#4f9b27"/>
<rect x="359.18" y="35.01" width="2.8" height="2.8" fill="#4f9b27"/>
<rect x="396.04" y="33.68" width="2.8" height="2.8" fill="#4f9b27"/>
<rect x="451.33" y="32.05" width="2.8" height="2.8" fill="#4f9b27"/>
<rect x="506.62" y="41.22" width="2.8" height="2.8" fill="#4f9b27"/>
<path d="M250.00,43.80 L286.86,46.76 L323.72,34.19 L360.58,39.37 L397.44,40.25 L452.73,32.57 L508.02,23.26" fill="none" stroke="#4f9b27" stroke-width="1.6" />
<line x1="286.86" y1="42.32" x2="286.86" y2="51.19" stroke="#6fb04c" stroke-width="0.8" />
<line x1="285.26" y1="42.32" x2="288.46" y2="42.32" stroke="#6fb04c" stroke-width="0.8" />
<line x1="285.26" y1="51.19" x2="288.46" y2="51.19" stroke="#6fb04c" stroke-width="0.8" />
<line x1="323.72" y1="14.98" x2="323.72" y2="53.41" stroke="#6fb04c" stroke-width="0.8" />
<line x1="322.12" y1="14.98" x2="325.32" y2="14.98" stroke="#6fb04c" stroke-width="0.8" />
<line x1="322.12" y1="53.41" x2="325.32" y2="53.41" stroke="#6fb04c" stroke-width="0.8" />
<line x1="360.58" y1="34.93" x2="360.58" y2="43.80" stroke="#6fb04c" stroke-width="0.8" />
<line x1="358.98" y1="34.93" x2="362.18" y2="34.93" stroke="#6fb04c" stroke-width="0.8" />
<line x1="358.98" y1="43.80" x2="362.18" y2="43.80" stroke="#6fb04c" stroke-width="0.8" />
<line x1="397.44" y1="27.69" x2="397.44" y2="52.82" stroke="#6fb04c" stroke-width="0.8" />
<line x1="395.84" y1="27.69" x2="399.04" y2="27.69" stroke="#6fb04c" stroke-width="0.8" />
<line x1="395.84" y1="52.82" x2="399.04" y2="52.82" stroke="#6fb04c" stroke-width="0.8" />
<line x1="452.73" y1="22.22" x2="452.73" y2="42.91" stroke="#6fb04c" stroke-width="0.8" />
<line x1="451.13" y1="22.22" x2="454.33" y2="22.22" stroke="#6fb04c" stroke-width="0.8" />
<line x1="451.13" y1="42.91" x2="454.33" y2="42.91" stroke="#6fb04c" stroke-width="0.8" />
<line x1="508.02" y1="18.08" x2="508.02" y2="28.43" stroke="#6fb04c" stroke-width="0.8" />
<line x1="506.42" y1="18.08" x2="509.62" y2="18.08" stroke="#6fb04c" stroke-width="0.8" />
<line x1="506.42" y1="28.43" x2="509.62" y2="28.43" stroke="#6fb04c" stroke-width="0.8" />
<circle cx="250.00" cy="43.80" r="1.75" fill="#4f9b27"/>
<circle cx="286.86" cy="46.76" r="1.75" fill="#4f9b27"/>
<circle cx="323.72" cy="34.19" r="1.75" fill="#4f9b27"/>
<circle cx="360.58" cy="39.37" r="1.75" fill="#4f9b27"/>
<circle cx="397.44" cy="40.25" r="1.75" fill="#4f9b27"/>
<circle cx="452.73" cy="32.57" r="1.75" fill="#4f9b27"/>
<circle cx="508.02" cy="23.26" r="1.75" fill="#4f9b27"/>
<line x1="254.10" y1="125.60" x2="265.60" y2="125.60" stroke="#4f9b27" stroke-width="1.6" />
<circle cx="259.70" cy="125.60" r="1.75" fill="#4f9b27"/>
<text x="268.00" y="128.10" font-size="6.94" textLength="53.57" lengthAdjust="spacingAndGlyphs" fill="#231f20" >EV-BFP + EV-MIG</text>
<line x1="254.10" y1="137.30" x2="265.60" y2="137.30" stroke="#4f9b27" stroke-width="1.25" stroke-dasharray="1.15,1.05"/>
<rect x="258.30" y="135.90" width="2.8" height="2.8" fill="#4f9b27"/>
<text x="268.00" y="139.80" font-size="6.94" textLength="45.20" lengthAdjust="spacingAndGlyphs" fill="#231f20" >EV-BFP + MYC</text>
<line x1="254.10" y1="149.00" x2="265.60" y2="149.00" stroke="#223f80" stroke-width="1.6" />
<path d="M259.70,147.20 L261.40,150.20 L258.00,150.20Z" fill="#223f80"/>
<text x="268.00" y="151.50" font-size="6.94" textLength="49.69" lengthAdjust="spacingAndGlyphs" fill="#231f20" >IK20-1 + EV-MIG</text>
<line x1="254.10" y1="160.70" x2="265.60" y2="160.70" stroke="#223f80" stroke-width="1.25" stroke-dasharray="1.15,1.05"/>
<path d="M259.70,162.50 L261.40,159.50 L258.00,159.50Z" fill="#223f80"/>
<text x="268.00" y="163.20" font-size="6.94" textLength="41.32" lengthAdjust="spacingAndGlyphs" fill="#231f20" >IK20-1 + MYC</text>
<line x1="254.10" y1="172.40" x2="265.60" y2="172.40" stroke="#b10a32" stroke-width="1.6" />
<circle cx="259.70" cy="172.40" r="1.35" fill="#b10a32"/>
<text x="268.00" y="174.90" font-size="6.94" textLength="49.69" lengthAdjust="spacingAndGlyphs" fill="#231f20" >IK20-2 + EV-MIG</text>
<line x1="254.10" y1="184.10" x2="265.60" y2="184.10" stroke="#b10a32" stroke-width="1.25" stroke-dasharray="1.15,1.05"/>
<circle cx="259.70" cy="184.10" r="1.6" fill="#fff" stroke="#b10a32" stroke-width="0.9"/>
<text x="268.00" y="186.60" font-size="6.94" textLength="41.32" lengthAdjust="spacingAndGlyphs" fill="#231f20" >IK20-2 + MYC</text>
<text transform="translate(224.60,152.30) rotate(-90)" x="0" y="0" font-size="9.31" textLength="97.70" lengthAdjust="spacingAndGlyphs" fill="#231f20">Relative cell viability (%)</text>
<text x="335.00" y="218.20" font-size="9.44" textLength="90.00" lengthAdjust="spacingAndGlyphs" fill="#231f20" >Days post doxycycline</text>
<line x1="250.00" y1="259.90" x2="250.00" y2="438.20" stroke="#4a4a4a" stroke-width="1.6" />
<line x1="249.20" y1="437.50" x2="493.10" y2="437.50" stroke="#3a3a3a" stroke-width="1.5" />
<line x1="247.00" y1="281.50" x2="250.00" y2="281.50" stroke="#3a3a3a" stroke-width="1" />
<text x="231.80" y="284.50" font-size="8.89" textLength="12.20" lengthAdjust="spacingAndGlyphs" fill="#231f20" >100</text>
<line x1="247.00" y1="359.50" x2="250.00" y2="359.50" stroke="#3a3a3a" stroke-width="1" />
<text x="235.60" y="362.50" font-size="8.89" textLength="8.40" lengthAdjust="spacingAndGlyphs" fill="#231f20" >50</text>
<line x1="247.00" y1="437.50" x2="250.00" y2="437.50" stroke="#3a3a3a" stroke-width="1" />
<text x="239.80" y="440.50" font-size="8.89" textLength="4.20" lengthAdjust="spacingAndGlyphs" fill="#231f20" >0</text>
<line x1="250.00" y1="437.50" x2="250.00" y2="440.50" stroke="#3a3a3a" stroke-width="1" />
<text x="248.07" y="450.60" font-size="8.06" textLength="3.85" lengthAdjust="spacingAndGlyphs" fill="#231f20" >0</text>
<line x1="269.85" y1="437.50" x2="269.85" y2="440.50" stroke="#3a3a3a" stroke-width="1" />
<text x="267.93" y="450.60" font-size="8.06" textLength="3.85" lengthAdjust="spacingAndGlyphs" fill="#231f20" >1</text>
<line x1="289.70" y1="437.50" x2="289.70" y2="440.50" stroke="#3a3a3a" stroke-width="1" />
<text x="287.77" y="450.60" font-size="8.06" textLength="3.85" lengthAdjust="spacingAndGlyphs" fill="#231f20" >2</text>
<line x1="309.55" y1="437.50" x2="309.55" y2="440.50" stroke="#3a3a3a" stroke-width="1" />
<text x="307.62" y="450.60" font-size="8.06" textLength="3.85" lengthAdjust="spacingAndGlyphs" fill="#231f20" >3</text>
<line x1="329.40" y1="437.50" x2="329.40" y2="440.50" stroke="#3a3a3a" stroke-width="1" />
<text x="327.47" y="450.60" font-size="8.06" textLength="3.85" lengthAdjust="spacingAndGlyphs" fill="#231f20" >4</text>
<line x1="349.25" y1="437.50" x2="349.25" y2="440.50" stroke="#3a3a3a" stroke-width="1" />
<text x="347.32" y="450.60" font-size="8.06" textLength="3.85" lengthAdjust="spacingAndGlyphs" fill="#231f20" >5</text>
<line x1="369.10" y1="437.50" x2="369.10" y2="440.50" stroke="#3a3a3a" stroke-width="1" />
<text x="367.18" y="450.60" font-size="8.06" textLength="3.85" lengthAdjust="spacingAndGlyphs" fill="#231f20" >6</text>
<line x1="388.95" y1="437.50" x2="388.95" y2="440.50" stroke="#3a3a3a" stroke-width="1" />
<text x="387.03" y="450.60" font-size="8.06" textLength="3.85" lengthAdjust="spacingAndGlyphs" fill="#231f20" >7</text>
<line x1="408.80" y1="437.50" x2="408.80" y2="440.50" stroke="#3a3a3a" stroke-width="1" />
<text x="406.88" y="450.60" font-size="8.06" textLength="3.85" lengthAdjust="spacingAndGlyphs" fill="#231f20" >8</text>
<line x1="428.65" y1="437.50" x2="428.65" y2="440.50" stroke="#3a3a3a" stroke-width="1" />
<text x="426.72" y="450.60" font-size="8.06" textLength="3.85" lengthAdjust="spacingAndGlyphs" fill="#231f20" >9</text>
<line x1="448.50" y1="437.50" x2="448.50" y2="440.50" stroke="#3a3a3a" stroke-width="1" />
<text x="444.65" y="450.60" font-size="8.06" textLength="7.70" lengthAdjust="spacingAndGlyphs" fill="#231f20" >10</text>
<line x1="468.35" y1="437.50" x2="468.35" y2="440.50" stroke="#3a3a3a" stroke-width="1" />
<text x="464.50" y="450.60" font-size="8.06" textLength="7.70" lengthAdjust="spacingAndGlyphs" fill="#231f20" >11</text>
<line x1="488.20" y1="437.50" x2="488.20" y2="440.50" stroke="#3a3a3a" stroke-width="1" />
<text x="484.35" y="450.60" font-size="8.06" textLength="7.70" lengthAdjust="spacingAndGlyphs" fill="#231f20" >12</text>
<path d="M250.00,281.50 L289.70,284.78 L309.55,298.97 L329.40,308.64 L349.25,340.78 L388.95,362.15 L448.50,396.32 L488.20,411.76" fill="none" stroke="#223f80" stroke-width="1.25" stroke-dasharray="1.15,1.05"/>
<line x1="289.70" y1="278.54" x2="289.70" y2="291.02" stroke="#41609c" stroke-width="0.8" />
<line x1="288.10" y1="278.54" x2="291.30" y2="278.54" stroke="#41609c" stroke-width="0.8" />
<line x1="288.10" y1="291.02" x2="291.30" y2="291.02" stroke="#41609c" stroke-width="0.8" />
<line x1="309.55" y1="292.73" x2="309.55" y2="305.21" stroke="#41609c" stroke-width="0.8" />
<line x1="307.95" y1="292.73" x2="311.15" y2="292.73" stroke="#41609c" stroke-width="0.8" />
<line x1="307.95" y1="305.21" x2="311.15" y2="305.21" stroke="#41609c" stroke-width="0.8" />
<line x1="329.40" y1="303.96" x2="329.40" y2="313.32" stroke="#41609c" stroke-width="0.8" />
<line x1="327.80" y1="303.96" x2="331.00" y2="303.96" stroke="#41609c" stroke-width="0.8" />
<line x1="327.80" y1="313.32" x2="331.00" y2="313.32" stroke="#41609c" stroke-width="0.8" />
<line x1="349.25" y1="339.22" x2="349.25" y2="342.34" stroke="#41609c" stroke-width="0.8" />
<line x1="347.65" y1="339.22" x2="350.85" y2="339.22" stroke="#41609c" stroke-width="0.8" />
<line x1="347.65" y1="342.34" x2="350.85" y2="342.34" stroke="#41609c" stroke-width="0.8" />
<line x1="388.95" y1="359.81" x2="388.95" y2="364.49" stroke="#41609c" stroke-width="0.8" />
<line x1="387.35" y1="359.81" x2="390.55" y2="359.81" stroke="#41609c" stroke-width="0.8" />
<line x1="387.35" y1="364.49" x2="390.55" y2="364.49" stroke="#41609c" stroke-width="0.8" />
<line x1="448.50" y1="394.76" x2="448.50" y2="397.88" stroke="#41609c" stroke-width="0.8" />
<line x1="446.90" y1="394.76" x2="450.10" y2="394.76" stroke="#41609c" stroke-width="0.8" />
<line x1="446.90" y1="397.88" x2="450.10" y2="397.88" stroke="#41609c" stroke-width="0.8" />
<line x1="488.20" y1="409.42" x2="488.20" y2="414.10" stroke="#41609c" stroke-width="0.8" />
<line x1="486.60" y1="409.42" x2="489.80" y2="409.42" stroke="#41609c" stroke-width="0.8" />
<line x1="486.60" y1="414.10" x2="489.80" y2="414.10" stroke="#41609c" stroke-width="0.8" />
<path d="M250.00,283.30 L251.70,280.30 L248.30,280.30Z" fill="#223f80"/>
<path d="M289.70,286.58 L291.40,283.58 L288.00,283.58Z" fill="#223f80"/>
<path d="M309.55,300.77 L311.25,297.77 L307.85,297.77Z" fill="#223f80"/>
<path d="M329.40,310.44 L331.10,307.44 L327.70,307.44Z" fill="#223f80"/>
<path d="M349.25,342.58 L350.95,339.58 L347.55,339.58Z" fill="#223f80"/>
<path d="M388.95,363.95 L390.65,360.95 L387.25,360.95Z" fill="#223f80"/>
<path d="M448.50,398.12 L450.20,395.12 L446.80,395.12Z" fill="#223f80"/>
<path d="M488.20,413.56 L489.90,410.56 L486.50,410.56Z" fill="#223f80"/>
<path d="M250.00,281.50 L289.70,287.43 L309.55,293.98 L329.40,305.21 L349.25,332.51 L388.95,334.23 L448.50,349.36 L488.20,369.02" fill="none" stroke="#223f80" stroke-width="1.6" />
<line x1="289.70" y1="273.39" x2="289.70" y2="301.47" stroke="#41609c" stroke-width="0.8" />
<line x1="288.10" y1="273.39" x2="291.30" y2="273.39" stroke="#41609c" stroke-width="0.8" />
<line x1="288.10" y1="301.47" x2="291.30" y2="301.47" stroke="#41609c" stroke-width="0.8" />
<line x1="309.55" y1="290.86" x2="309.55" y2="297.10" stroke="#41609c" stroke-width="0.8" />
<line x1="307.95" y1="290.86" x2="311.15" y2="290.86" stroke="#41609c" stroke-width="0.8" />
<line x1="307.95" y1="297.10" x2="311.15" y2="297.10" stroke="#41609c" stroke-width="0.8" />
<line x1="329.40" y1="297.41" x2="329.40" y2="313.01" stroke="#41609c" stroke-width="0.8" />
<line x1="327.80" y1="297.41" x2="331.00" y2="297.41" stroke="#41609c" stroke-width="0.8" />
<line x1="327.80" y1="313.01" x2="331.00" y2="313.01" stroke="#41609c" stroke-width="0.8" />
<line x1="349.25" y1="326.27" x2="349.25" y2="338.75" stroke="#41609c" stroke-width="0.8" />
<line x1="347.65" y1="326.27" x2="350.85" y2="326.27" stroke="#41609c" stroke-width="0.8" />
<line x1="347.65" y1="338.75" x2="350.85" y2="338.75" stroke="#41609c" stroke-width="0.8" />
<line x1="388.95" y1="321.75" x2="388.95" y2="346.71" stroke="#41609c" stroke-width="0.8" />
<line x1="387.35" y1="321.75" x2="390.55" y2="321.75" stroke="#41609c" stroke-width="0.8" />
<line x1="387.35" y1="346.71" x2="390.55" y2="346.71" stroke="#41609c" stroke-width="0.8" />
<line x1="448.50" y1="344.68" x2="448.50" y2="354.04" stroke="#41609c" stroke-width="0.8" />
<line x1="446.90" y1="344.68" x2="450.10" y2="344.68" stroke="#41609c" stroke-width="0.8" />
<line x1="446.90" y1="354.04" x2="450.10" y2="354.04" stroke="#41609c" stroke-width="0.8" />
<line x1="488.20" y1="366.68" x2="488.20" y2="371.36" stroke="#41609c" stroke-width="0.8" />
<line x1="486.60" y1="366.68" x2="489.80" y2="366.68" stroke="#41609c" stroke-width="0.8" />
<line x1="486.60" y1="371.36" x2="489.80" y2="371.36" stroke="#41609c" stroke-width="0.8" />
<path d="M250.00,279.70 L251.70,282.70 L248.30,282.70Z" fill="#223f80"/>
<path d="M289.70,285.63 L291.40,288.63 L288.00,288.63Z" fill="#223f80"/>
<path d="M309.55,292.18 L311.25,295.18 L307.85,295.18Z" fill="#223f80"/>
<path d="M329.40,303.41 L331.10,306.41 L327.70,306.41Z" fill="#223f80"/>
<path d="M349.25,330.71 L350.95,333.71 L347.55,333.71Z" fill="#223f80"/>
<path d="M388.95,332.43 L390.65,335.43 L387.25,335.43Z" fill="#223f80"/>
<path d="M448.50,347.56 L450.20,350.56 L446.80,350.56Z" fill="#223f80"/>
<path d="M488.20,367.22 L489.90,370.22 L486.50,370.22Z" fill="#223f80"/>
<path d="M250.00,281.50 L289.70,288.83 L309.55,283.22 L329.40,281.81 L349.25,290.86 L388.95,277.44 L448.50,292.42 L488.20,282.44" fill="none" stroke="#4f9b27" stroke-width="1.25" stroke-dasharray="1.15,1.05"/>
<line x1="289.70" y1="281.03" x2="289.70" y2="296.63" stroke="#6fb04c" stroke-width="0.8" />
<line x1="288.10" y1="281.03" x2="291.30" y2="281.03" stroke="#6fb04c" stroke-width="0.8" />
<line x1="288.10" y1="296.63" x2="291.30" y2="296.63" stroke="#6fb04c" stroke-width="0.8" />
<line x1="309.55" y1="276.98" x2="309.55" y2="289.46" stroke="#6fb04c" stroke-width="0.8" />
<line x1="307.95" y1="276.98" x2="311.15" y2="276.98" stroke="#6fb04c" stroke-width="0.8" />
<line x1="307.95" y1="289.46" x2="311.15" y2="289.46" stroke="#6fb04c" stroke-width="0.8" />
<line x1="329.40" y1="278.69" x2="329.40" y2="284.93" stroke="#6fb04c" stroke-width="0.8" />
<line x1="327.80" y1="278.69" x2="331.00" y2="278.69" stroke="#6fb04c" stroke-width="0.8" />
<line x1="327.80" y1="284.93" x2="331.00" y2="284.93" stroke="#6fb04c" stroke-width="0.8" />
<line x1="349.25" y1="283.06" x2="349.25" y2="298.66" stroke="#6fb04c" stroke-width="0.8" />
<line x1="347.65" y1="283.06" x2="350.85" y2="283.06" stroke="#6fb04c" stroke-width="0.8" />
<line x1="347.65" y1="298.66" x2="350.85" y2="298.66" stroke="#6fb04c" stroke-width="0.8" />
<line x1="388.95" y1="274.32" x2="388.95" y2="280.56" stroke="#6fb04c" stroke-width="0.8" />
<line x1="387.35" y1="274.32" x2="390.55" y2="274.32" stroke="#6fb04c" stroke-width="0.8" />
<line x1="387.35" y1="280.56" x2="390.55" y2="280.56" stroke="#6fb04c" stroke-width="0.8" />
<line x1="448.50" y1="283.06" x2="448.50" y2="301.78" stroke="#6fb04c" stroke-width="0.8" />
<line x1="446.90" y1="283.06" x2="450.10" y2="283.06" stroke="#6fb04c" stroke-width="0.8" />
<line x1="446.90" y1="301.78" x2="450.10" y2="301.78" stroke="#6fb04c" stroke-width="0.8" />
<line x1="488.20" y1="274.64" x2="488.20" y2="290.24" stroke="#6fb04c" stroke-width="0.8" />
<line x1="486.60" y1="274.64" x2="489.80" y2="274.64" stroke="#6fb04c" stroke-width="0.8" />
<line x1="486.60" y1="290.24" x2="489.80" y2="290.24" stroke="#6fb04c" stroke-width="0.8" />
<rect x="248.60" y="280.10" width="2.8" height="2.8" fill="#4f9b27"/>
<rect x="288.30" y="287.43" width="2.8" height="2.8" fill="#4f9b27"/>
<rect x="308.15" y="281.82" width="2.8" height="2.8" fill="#4f9b27"/>
<rect x="328.00" y="280.41" width="2.8" height="2.8" fill="#4f9b27"/>
<rect x="347.85" y="289.46" width="2.8" height="2.8" fill="#4f9b27"/>
<rect x="387.55" y="276.04" width="2.8" height="2.8" fill="#4f9b27"/>
<rect x="447.10" y="291.02" width="2.8" height="2.8" fill="#4f9b27"/>
<rect x="486.80" y="281.04" width="2.8" height="2.8" fill="#4f9b27"/>
<path d="M250.00,281.50 L289.70,281.19 L309.55,279.94 L329.40,272.45 L349.25,290.86 L388.95,278.69 L448.50,275.26 L488.20,281.50" fill="none" stroke="#4f9b27" stroke-width="1.6" />
<line x1="289.70" y1="271.83" x2="289.70" y2="290.55" stroke="#6fb04c" stroke-width="0.8" />
<line x1="288.10" y1="271.83" x2="291.30" y2="271.83" stroke="#6fb04c" stroke-width="0.8" />
<line x1="288.10" y1="290.55" x2="291.30" y2="290.55" stroke="#6fb04c" stroke-width="0.8" />
<line x1="309.55" y1="275.26" x2="309.55" y2="284.62" stroke="#6fb04c" stroke-width="0.8" />
<line x1="307.95" y1="275.26" x2="311.15" y2="275.26" stroke="#6fb04c" stroke-width="0.8" />
<line x1="307.95" y1="284.62" x2="311.15" y2="284.62" stroke="#6fb04c" stroke-width="0.8" />
<line x1="329.40" y1="264.65" x2="329.40" y2="280.25" stroke="#6fb04c" stroke-width="0.8" />
<line x1="327.80" y1="264.65" x2="331.00" y2="264.65" stroke="#6fb04c" stroke-width="0.8" />
<line x1="327.80" y1="280.25" x2="331.00" y2="280.25" stroke="#6fb04c" stroke-width="0.8" />
<line x1="349.25" y1="283.06" x2="349.25" y2="298.66" stroke="#6fb04c" stroke-width="0.8" />
<line x1="347.65" y1="283.06" x2="350.85" y2="283.06" stroke="#6fb04c" stroke-width="0.8" />
<line x1="347.65" y1="298.66" x2="350.85" y2="298.66" stroke="#6fb04c" stroke-width="0.8" />
<line x1="388.95" y1="274.01" x2="388.95" y2="283.37" stroke="#6fb04c" stroke-width="0.8" />
<line x1="387.35" y1="274.01" x2="390.55" y2="274.01" stroke="#6fb04c" stroke-width="0.8" />
<line x1="387.35" y1="283.37" x2="390.55" y2="283.37" stroke="#6fb04c" stroke-width="0.8" />
<line x1="448.50" y1="262.00" x2="448.50" y2="288.52" stroke="#6fb04c" stroke-width="0.8" />
<line x1="446.90" y1="262.00" x2="450.10" y2="262.00" stroke="#6fb04c" stroke-width="0.8" />
<line x1="446.90" y1="288.52" x2="450.10" y2="288.52" stroke="#6fb04c" stroke-width="0.8" />
<line x1="488.20" y1="273.70" x2="488.20" y2="289.30" stroke="#6fb04c" stroke-width="0.8" />
<line x1="486.60" y1="273.70" x2="489.80" y2="273.70" stroke="#6fb04c" stroke-width="0.8" />
<line x1="486.60" y1="289.30" x2="489.80" y2="289.30" stroke="#6fb04c" stroke-width="0.8" />
<circle cx="250.00" cy="281.50" r="1.75" fill="#4f9b27"/>
<circle cx="289.70" cy="281.19" r="1.75" fill="#4f9b27"/>
<circle cx="309.55" cy="279.94" r="1.75" fill="#4f9b27"/>
<circle cx="329.40" cy="272.45" r="1.75" fill="#4f9b27"/>
<circle cx="349.25" cy="290.86" r="1.75" fill="#4f9b27"/>
<circle cx="388.95" cy="278.69" r="1.75" fill="#4f9b27"/>
<circle cx="448.50" cy="275.26" r="1.75" fill="#4f9b27"/>
<circle cx="488.20" cy="281.50" r="1.75" fill="#4f9b27"/>
<line x1="263.50" y1="363.70" x2="275.00" y2="363.70" stroke="#4f9b27" stroke-width="1.6" />
<circle cx="269.10" cy="363.70" r="1.75" fill="#4f9b27"/>
<text x="277.40" y="366.20" font-size="6.94" textLength="53.57" lengthAdjust="spacingAndGlyphs" fill="#231f20" >EV-BFP + EV-MIG</text>
<line x1="263.50" y1="375.30" x2="275.00" y2="375.30" stroke="#4f9b27" stroke-width="1.25" stroke-dasharray="1.15,1.05"/>
<rect x="267.70" y="373.90" width="2.8" height="2.8" fill="#4f9b27"/>
<text x="277.40" y="377.80" font-size="6.94" textLength="45.20" lengthAdjust="spacingAndGlyphs" fill="#231f20" >EV-BFP + MYC</text>
<line x1="263.50" y1="386.90" x2="275.00" y2="386.90" stroke="#223f80" stroke-width="1.6" />
<path d="M269.10,385.10 L270.80,388.10 L267.40,388.10Z" fill="#223f80"/>
<text x="277.40" y="389.40" font-size="6.94" textLength="49.69" lengthAdjust="spacingAndGlyphs" fill="#231f20" >IK20-1 + EV-MIG</text>
<line x1="263.50" y1="398.50" x2="275.00" y2="398.50" stroke="#223f80" stroke-width="1.25" stroke-dasharray="1.15,1.05"/>
<path d="M269.10,400.30 L270.80,397.30 L267.40,397.30Z" fill="#223f80"/>
<text x="277.40" y="401.00" font-size="6.94" textLength="41.32" lengthAdjust="spacingAndGlyphs" fill="#231f20" >IK20-1 + MYC</text>
<text transform="translate(224.60,397.00) rotate(-90)" x="0" y="0" font-size="9.31" textLength="96.70" lengthAdjust="spacingAndGlyphs" fill="#231f20">Relative cell viability (%)</text>
<text x="335.00" y="464.20" font-size="9.58" textLength="90.00" lengthAdjust="spacingAndGlyphs" fill="#231f20" >Days post doxycycline</text>
<rect x="261.60" y="607.04" width="22.80" height="3.56" fill="#4b2064" stroke="#3a1450" stroke-width="0.8"/>
<line x1="272.95" y1="606.64" x2="272.95" y2="605.10" stroke="#2a2a2a" stroke-width="0.9" />
<line x1="267.10" y1="605.10" x2="278.80" y2="605.10" stroke="#555" stroke-width="1.1" />
<rect x="295.90" y="506.80" width="22.60" height="103.80" fill="#9b84a9" stroke="#8c7399" stroke-width="0.8"/>
<rect x="330.60" y="594.33" width="22.30" height="16.27" fill="#6e4a86" stroke="#5e3b75" stroke-width="0.8"/>
<line x1="341.65" y1="593.93" x2="341.65" y2="591.70" stroke="#2a2a2a" stroke-width="0.9" />
<line x1="335.60" y1="591.70" x2="347.70" y2="591.70" stroke="#555" stroke-width="1.1" />
<line x1="250.20" y1="501.30" x2="250.20" y2="611.30" stroke="#4a4a4a" stroke-width="1.6" />
<line x1="249.40" y1="610.60" x2="363.80" y2="610.60" stroke="#4a4a4a" stroke-width="1.7" />
<line x1="273.00" y1="610.60" x2="273.00" y2="613.80" stroke="#3a3a3a" stroke-width="1" />
<line x1="307.20" y1="610.60" x2="307.20" y2="613.80" stroke="#3a3a3a" stroke-width="1" />
<line x1="341.70" y1="610.60" x2="341.70" y2="613.80" stroke="#3a3a3a" stroke-width="1" />
<line x1="246.30" y1="506.40" x2="250.20" y2="506.40" stroke="#4a4a4a" stroke-width="1" />
<text x="231.90" y="509.10" font-size="7.92" textLength="12.10" lengthAdjust="spacingAndGlyphs" fill="#231f20" >100</text>
<line x1="246.30" y1="558.50" x2="250.20" y2="558.50" stroke="#4a4a4a" stroke-width="1" />
<text x="235.80" y="561.20" font-size="7.92" textLength="8.20" lengthAdjust="spacingAndGlyphs" fill="#231f20" >50</text>
<line x1="246.30" y1="610.60" x2="250.20" y2="610.60" stroke="#4a4a4a" stroke-width="1" />
<text x="239.90" y="613.30" font-size="7.92" textLength="4.10" lengthAdjust="spacingAndGlyphs" fill="#231f20" >0</text>
<text transform="translate(207.00,580.90) rotate(-90)" x="0" y="0" font-size="8.75" textLength="49.60" lengthAdjust="spacingAndGlyphs" fill="#231f20">Cell viability</text>
<text transform="translate(224.30,606.10) rotate(-90)" x="0" y="0" font-size="8.75" textLength="98.30" lengthAdjust="spacingAndGlyphs" fill="#231f20">(% normalised to IKZF1s)</text>
<text transform="translate(277.60,621.00) rotate(-45)" x="0" y="0" text-anchor="end" font-size="7.78" textLength="30.5" lengthAdjust="spacingAndGlyphs" fill="#231f20">EV-pMIG</text>
<text transform="translate(312.50,621.00) rotate(-45)" x="0" y="0" text-anchor="end" font-size="7.78" textLength="44" lengthAdjust="spacingAndGlyphs" fill="#231f20">IKZF1s-3xHA</text>
<text transform="translate(346.00,621.00) rotate(-45)" x="0" y="0" text-anchor="end" font-size="7.78" textLength="35.5" lengthAdjust="spacingAndGlyphs" fill="#231f20">IRF4-3xHA</text>
<g shape-rendering="crispEdges">
<rect x="0" y="1" width="520" height="1" fill="#8a8a8a"/>
<rect x="1" y="0" width="1" height="661" fill="#7a7a7a"/>
<rect x="518" y="0" width="1" height="661" fill="#b0b0b0"/>
<rect x="0" y="659" width="520" height="1" fill="#999"/>
<rect x="0" y="0" width="520" height="1" fill="#232323"/>
<rect x="0" y="0" width="1" height="661" fill="#232323"/>
<rect x="519" y="0" width="1" height="661" fill="#000"/>
<rect x="0" y="660" width="520" height="1" fill="#000"/>
</g>
</svg></body></html>
